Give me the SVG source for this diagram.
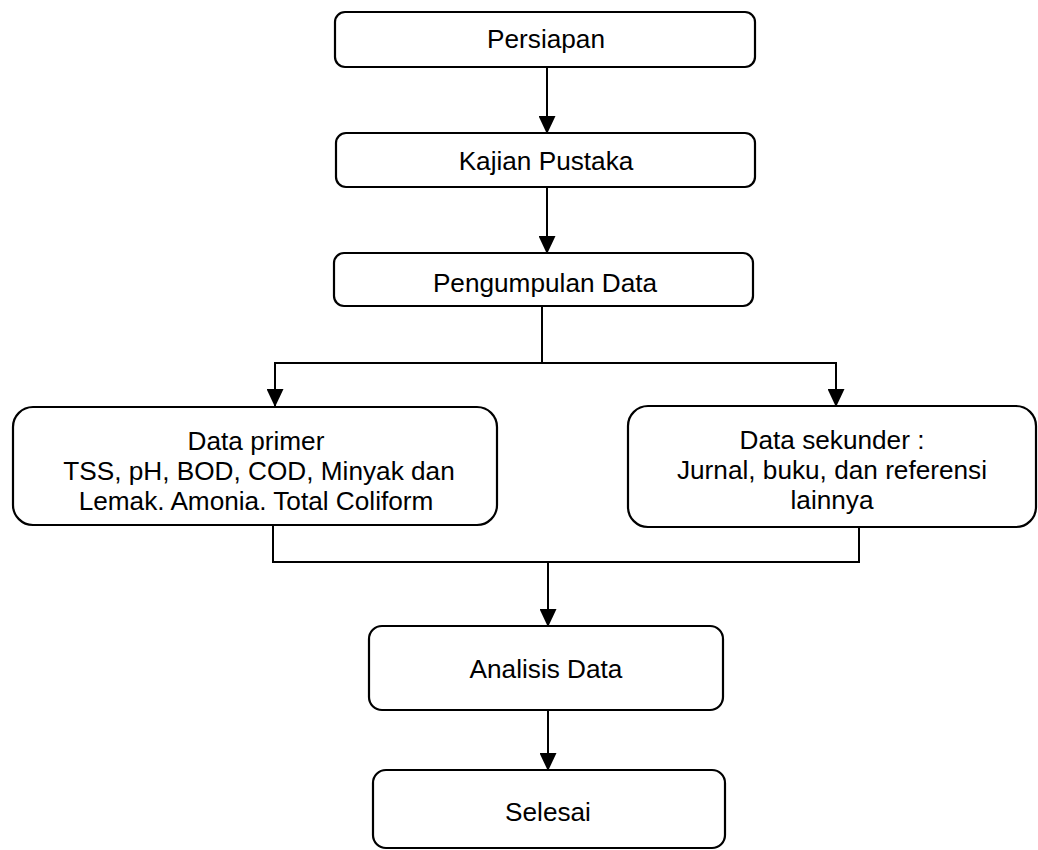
<svg xmlns="http://www.w3.org/2000/svg" width="1038" height="850" viewBox="0 0 1038 850">
<style>
.box{fill:#fff;stroke:#000;stroke-width:2.2}
.t{font-family:"Liberation Sans",Arial,sans-serif;font-size:26.2px;fill:#000;text-anchor:middle}
.ln{fill:none;stroke:#000;stroke-width:2}
</style>
<defs>
<marker id="ah" markerUnits="userSpaceOnUse" markerWidth="18" markerHeight="17" viewBox="0 0 18 17" refX="17" refY="8.5" orient="auto">
<path d="M0,0 L18,8.5 L0,17 Z" fill="#000"/>
</marker>
</defs>
<rect width="1038" height="850" fill="#fff"/>
<g id="connectors">
<line class="ln" x1="547" y1="67" x2="547" y2="133" marker-end="url(#ah)"/>
<line class="ln" x1="547" y1="187" x2="547" y2="253" marker-end="url(#ah)"/>
<line class="ln" x1="542" y1="306" x2="542" y2="363"/>
<line class="ln" x1="274" y1="363" x2="837" y2="363"/>
<line class="ln" x1="275" y1="363" x2="275" y2="406" marker-end="url(#ah)"/>
<line class="ln" x1="836" y1="363" x2="836" y2="406" marker-end="url(#ah)"/>
<polyline class="ln" points="273,525 273,562 859,562 859,527"/>
<line class="ln" x1="548" y1="562" x2="548" y2="626" marker-end="url(#ah)"/>
<line class="ln" x1="548" y1="710" x2="548" y2="770" marker-end="url(#ah)"/>
</g>
<g id="persiapan">
<rect class="box" x="335" y="12" width="420" height="55" rx="10"/>
<text class="t" x="546" y="48">Persiapan</text>
</g>
<g id="kajian">
<rect class="box" x="336" y="133" width="419" height="54" rx="10"/>
<text class="t" x="546" y="170">Kajian Pustaka</text>
</g>
<g id="pengumpulan">
<rect class="box" x="334" y="253" width="419" height="53" rx="10"/>
<text class="t" x="545" y="292">Pengumpulan Data</text>
</g>
<g id="primer">
<rect class="box" x="13" y="407" width="484" height="118" rx="20"/>
<text class="t" x="256" y="450">Data primer</text>
<text class="t" x="259" y="480">TSS, pH, BOD, COD, Minyak dan</text>
<text class="t" x="256" y="510">Lemak. Amonia. Total Coliform</text>
</g>
<g id="sekunder">
<rect class="box" x="628" y="406" width="408" height="121" rx="20"/>
<text class="t" x="832" y="449">Data sekunder :</text>
<text class="t" x="832" y="479">Jurnal, buku, dan referensi</text>
<text class="t" x="832" y="509">lainnya</text>
</g>
<g id="analisis">
<rect class="box" x="369" y="626" width="354" height="84" rx="13"/>
<text class="t" x="546" y="678">Analisis Data</text>
</g>
<g id="selesai">
<rect class="box" x="373" y="770" width="352" height="78" rx="13"/>
<text class="t" x="548" y="821">Selesai</text>
</g>
</svg>
